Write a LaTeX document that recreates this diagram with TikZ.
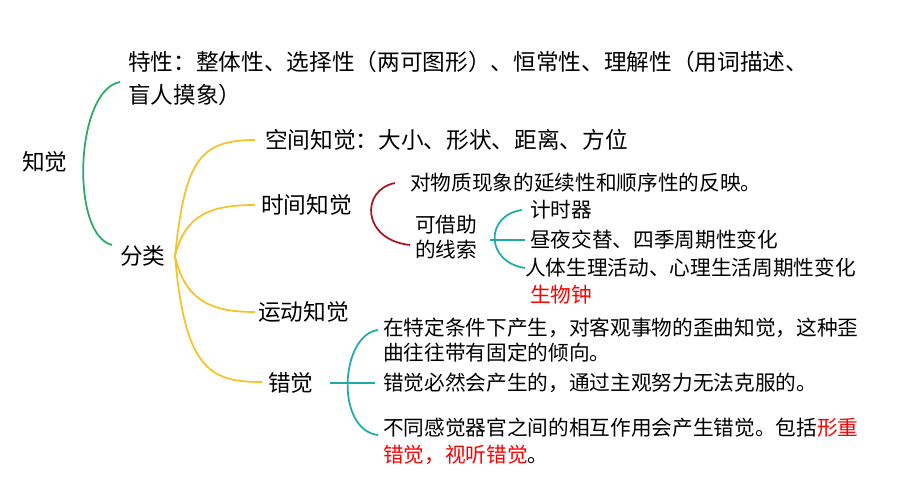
\documentclass[tikz,border=0pt]{standalone}
\usepackage{fontspec}
\setmainfont{Noto Sans CJK SC}
\begin{document}
\begin{tikzpicture}[x=0.75pt,y=-0.75pt,
  t/.style={anchor=west,inner sep=0pt,font=\fontsize{15.5pt}{17pt}\selectfont},
  big/.style={anchor=west,inner sep=0pt,font=\fontsize{17pt}{19pt}\selectfont},
  br/.style={line width=1.3pt}]
\useasboundingbox (0,0) rectangle (919,493);
\definecolor{gr}{RGB}{40,170,100}\definecolor{ye}{RGB}{245,195,40}
\definecolor{dr}{RGB}{170,20,30}\definecolor{te}{RGB}{30,170,170}
\node[big] (zj) at (22,162) {知觉};
\node[big] (tx) at (128,62) {特性：整体性、选择性（两可图形）、恒常性、理解性（用词描述、};
\node[big] (tx2) at (128,95) {盲人摸象）};
\node[big] (fl) at (120,256) {分类};
\draw[br,gr] (120,82) .. controls (75,90) and (70,235) .. (112,245);
\node[big] (kj) at (265,140) {空间知觉：大小、形状、距离、方位};
\node[big] (sj) at (261,205) {时间知觉};
\node[big] (yd) at (258,312) {运动知觉};
\node[big] (cj) at (268,383) {错觉};
\draw[br,ye] (175,256) .. controls (185,160) and (200,140) .. (255,140);
\draw[br,ye] (175,256) .. controls (185,215) and (210,205) .. (255,205);
\draw[br,ye] (175,256) .. controls (185,300) and (210,312) .. (255,312);
\draw[br,ye] (175,256) .. controls (185,370) and (210,382) .. (262,382);
\draw[br,dr] (395,183) .. controls (360,190) and (362,240) .. (410,245);
\node[t] at (410,183) {对物质现象的延续性和顺序性的反映。};
\node[t] at (415,225) {可借助};
\node[t] at (415,250) {的线索};
\draw[br,te] (522,210) .. controls (485,215) and (485,262) .. (525,268);
\node[t] at (530,210) {计时器};
\node[t] at (530,240) {昼夜交替、四季周期性变化};
\draw[br,te] (490,240) -- (525,240);
\node[t] at (525,268) {人体生理活动、心理生活周期性变化};
\node[t,text=red] at (530,295) {生物钟};
\draw[br,te] (378,330) .. controls (340,335) and (335,430) .. (378,435);
\draw[br,te] (330,383) -- (375,383);
\node[t] at (383,328) {在特定条件下产生，对客观事物的歪曲知觉，这种歪};
\node[t] at (383,353) {曲往往带有固定的倾向。};
\node[t] at (383,383) {错觉必然会产生的，通过主观努力无法克服的。};
\node[t] at (383,428) {不同感觉器官之间的相互作用会产生错觉。包括\textcolor{red}{形重}};
\node[t] at (383,455) {\textcolor{red}{错觉，视听错觉}。};
\end{tikzpicture}
\end{document}
